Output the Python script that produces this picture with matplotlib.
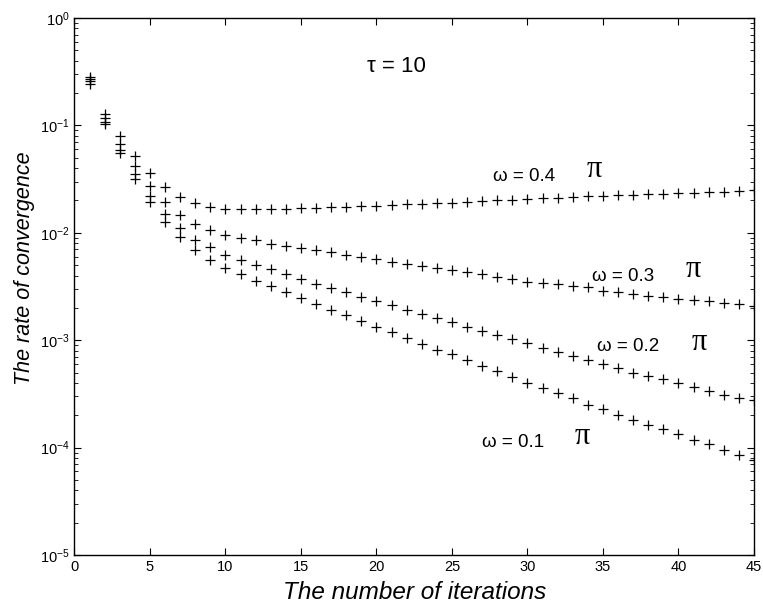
import matplotlib
matplotlib.use('Agg')
import matplotlib.pyplot as plt
import numpy as np

plt.rcParams['font.family'] = ['Liberation Sans', 'DejaVu Sans']
plt.rcParams['mathtext.fontset'] = 'custom'
plt.rcParams['mathtext.rm'] = 'Liberation Sans'

iterations = list(range(1, 46))

# rate of convergence
rate_04 = [0.28, 0.127, 0.079, 0.0514, 0.0359, 0.0264, 0.0213, 0.0188, 0.0175, 0.0168,
           0.0166, 0.0166, 0.0166, 0.0167, 0.0169, 0.0171, 0.0172, 0.0174, 0.0176, 0.0178,
           0.0181, 0.0184, 0.0186, 0.0189, 0.0190, 0.0193, 0.0197, 0.0200, 0.0203, 0.0206,
           0.0209, 0.0212, 0.0215, 0.0218, 0.0221, 0.0223, 0.0225, 0.0228, 0.0230, 0.0233,
           0.0235, 0.0238, 0.0241, 0.0245, 0.0250]
rate_03 = [0.27, 0.116, 0.067, 0.0415, 0.027, 0.0192, 0.0146, 0.0120, 0.0106, 0.0096,
           0.0090, 0.0085, 0.0079, 0.0076, 0.0072, 0.0069, 0.0066, 0.0062, 0.0060, 0.0057,
           0.0054, 0.0051, 0.0049, 0.0047, 0.0045, 0.0043, 0.0041, 0.0039, 0.0037, 0.0035,
           0.0034, 0.0033, 0.0032, 0.0031, 0.0029, 0.0028, 0.0027, 0.0026, 0.0025, 0.0024,
           0.00235, 0.0023, 0.0022, 0.00216, 0.0021]
rate_02 = [0.26, 0.108, 0.059, 0.0352, 0.0218, 0.0149, 0.0110, 0.0085, 0.0073, 0.0062,
           0.0056, 0.0050, 0.00458, 0.00411, 0.00375, 0.00337, 0.00309, 0.00281, 0.00255, 0.00232,
           0.00211, 0.00191, 0.00177, 0.0016, 0.00147, 0.00133, 0.00123, 0.00113, 0.00103, 0.00095,
           0.00085, 0.00078, 0.00071, 0.00066, 0.00060, 0.00055, 0.00049, 0.00046, 0.00044, 0.00040,
           0.00037, 0.00034, 0.00031, 0.00029, 0.00028]
rate_01 = [0.245, 0.102, 0.055, 0.0316, 0.0194, 0.0126, 0.0092, 0.0069, 0.0056, 0.00475,
           0.0041, 0.00356, 0.0032, 0.00278, 0.00246, 0.00219, 0.00191, 0.00171, 0.00151, 0.00133,
           0.00118, 0.00104, 0.00092, 0.00081, 0.00074, 0.00065, 0.00058, 0.00052, 0.00045, 0.00040,
           0.00036, 0.00032, 0.00029, 0.00025, 0.00023, 0.00020, 0.00018, 0.000161, 0.000148, 0.000133,
           0.000119, 0.000107, 0.000096, 0.000086, 0.000076]

series = [rate_04, rate_03, rate_02, rate_01]
omega_labels = ['\u03c9 = 0.4', '\u03c9 = 0.3', '\u03c9 = 0.2', '\u03c9 = 0.1']
# label anchor (x, y) for omega text and for the pi sign
omega_pos = [(27.7, 0.0337), (34.3, 0.00394), (34.6, 0.000877), (27.0, 0.000112)]
pi_pos = [(33.9, 0.0392), (40.5, 0.00458), (40.9, 0.000955), (33.1, 0.000127)]

fig = plt.figure(figsize=(7.63, 6.06), dpi=100)
ax = fig.add_axes([0.0976, 0.084, 0.8905, 0.8865])

for s in series:
    ax.plot(iterations, s, linestyle='', marker='+', color='black', markersize=6.5, markeredgewidth=0.9)

ax.set_yscale('log')
ax.set_xlim(0, 45)
ax.set_ylim(1e-5, 1)
ax.set_xticks(range(0, 46, 5))
ax.tick_params(which='both', direction='in', top=True, right=True, labelsize=10.5)
ax.tick_params(which='major', length=5, width=0.8)
ax.tick_params(which='minor', length=3, width=0.6)
for sp in ax.spines.values():
    sp.set_linewidth(1.0)

ax.set_xlabel('The number of iterations', fontsize=17.5, style='italic', labelpad=5)
ax.set_ylabel('The rate of convergence', fontsize=15.5, style='italic')
ax.yaxis.set_label_coords(-0.058, 0.534)

ax.text(19.4, 0.35, '\u03c4 = 10', fontsize=16, ha='left', va='center')
for lab, (ox, oy), (px, py) in zip(omega_labels, omega_pos, pi_pos):
    ax.text(ox, oy, lab, fontsize=13.5, ha='left', va='center')
    ax.text(px, py, '\u03c0', fontsize=22, ha='left', va='center', family=['Liberation Serif', 'DejaVu Serif'])

fig.savefig('out.png', dpi=100)
